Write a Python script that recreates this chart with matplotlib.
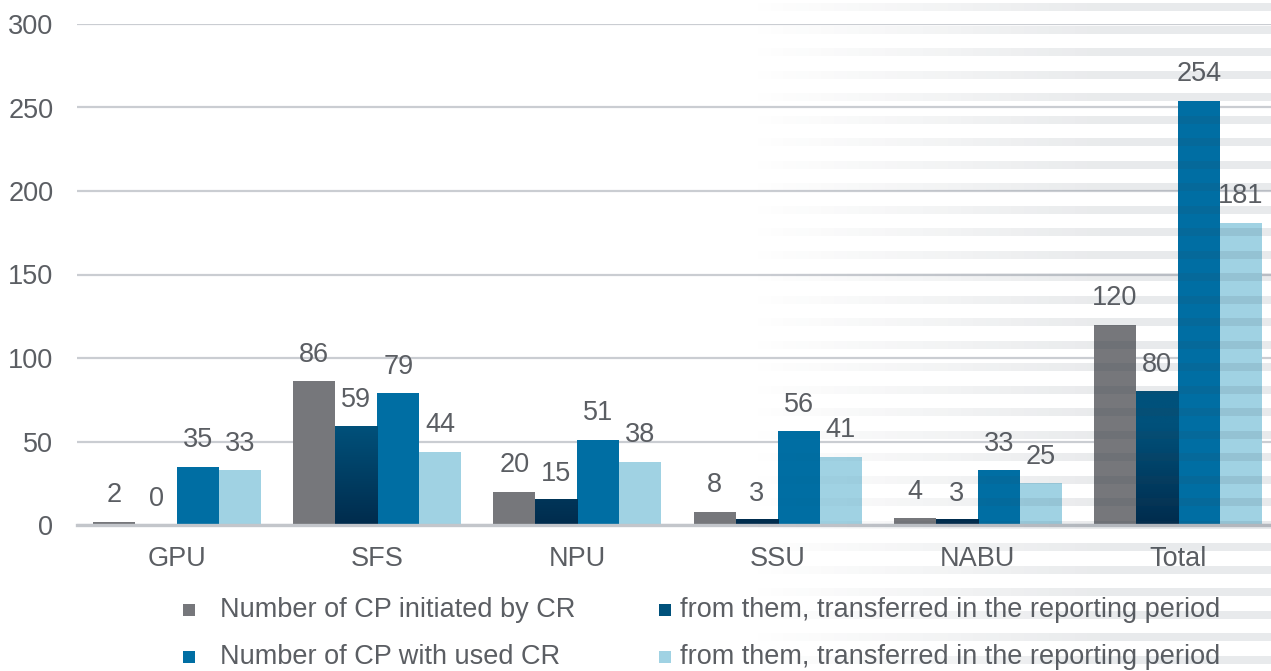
import matplotlib.pyplot as plt
import numpy as np
from matplotlib.colors import LinearSegmentedColormap
from matplotlib.patches import Rectangle

categories = ["GPU", "SFS", "NPU", "SSU", "NABU", "Total"]
initiated = [2, 86, 20, 8, 4, 120]
initiated_transferred = [0, 59, 15, 3, 3, 80]
used_cr = [35, 79, 51, 56, 33, 254]
used_transferred = [33, 44, 38, 41, 25, 181]
legend_labels = [
    "Number of CP initiated by CR",
    "from them, transferred in the reporting period",
    "Number of CP with used CR",
    "from them, transferred in the reporting period",
]

GRAY = "#76777b"
NAVY_TOP = "#00517b"
NAVY_BOT = "#002c4d"
BLUE = "#006ea3"
LIGHT = "#a0d2e3"
TEXT = "#5b5e63"
GRID = "#cacdd2"

plt.rcParams["font.family"] = ["Liberation Sans", "DejaVu Sans"]

W, H = 1271, 671
fig = plt.figure(figsize=(W / 100, H / 100), dpi=100)
ax = fig.add_axes([77 / W, 146 / H, 1 - 77 / W, 501 / H])

x = np.arange(len(categories))
width = 0.21
series = [initiated, initiated_transferred, used_cr, used_transferred]
colors = [GRAY, NAVY_BOT, BLUE, LIGHT]
offsets = [-1.5 * width, -0.5 * width, 0.5 * width, 1.5 * width]

navy_cmap = LinearSegmentedColormap.from_list("navy", [NAVY_BOT, NAVY_TOP])
for vals, col, off in zip(series, colors, offsets):
    bars = ax.bar(x + off, vals, width, color=col, zorder=3, linewidth=0)
    if vals is initiated_transferred:
        # vertical gradient on the dark bars
        for b, v in zip(bars, vals):
            if v <= 0:
                continue
            grad = np.linspace(v, 0, 64).reshape(-1, 1)
            ax.imshow(grad, cmap=navy_cmap, vmin=0, vmax=60, aspect="auto",
                      extent=(b.get_x(), b.get_x() + b.get_width(), 0, v),
                      zorder=3.5, interpolation="bilinear")
    for xi, v in zip(x + off, vals):
        ax.annotate(str(v), (xi, v), xytext=(0, 19), textcoords="offset points",
                    ha="center", va="center", fontsize=19.5, color=TEXT, zorder=5)

ax.set_xlim(-0.5, 5.465)
ax.set_ylim(0, 300)
ax.set_yticks(np.arange(0, 301, 50))
ax.set_xticks(x)
ax.set_xticklabels(categories)
ax.tick_params(axis="both", length=0, labelsize=19.5, labelcolor=TEXT)
ax.tick_params(axis="y", pad=17)
ax.tick_params(axis="x", pad=15)
ax.yaxis.grid(True, color=GRID, linewidth=1.6, zorder=0)
ax.set_axisbelow(True)
for s in ["top", "right", "left"]:
    ax.spines[s].set_visible(False)
ax.spines["bottom"].set_color("#c3c6cb")
ax.spines["bottom"].set_linewidth(2.4)
ax.spines["bottom"].set_zorder(4)

# legend, two rows by two columns
leg_colors = [GRAY, NAVY_TOP, BLUE, LIGHT]
leg_pos = [(183, 610, 220), (659, 610, 680), (183, 657, 220), (659, 657, 680)]
for (mx, my, tx), col, lab in zip(leg_pos, leg_colors, legend_labels):
    fig.add_artist(Rectangle((mx / W, 1 - (my + 6) / H), 12 / W, 12 / H,
                             transform=fig.transFigure, color=col, linewidth=0))
    fig.text(tx / W, 1 - my / H, lab, fontsize=19.5, color=TEXT, va="center", ha="left")

# faint horizontal stripes fading in on the right
rows = np.arange(H)
stripe = (((rows - 3) % 22.5) < 7.7).astype(float)
cols = np.arange(W)
ramp = np.clip((cols - 745) / (1100 - 745), 0, 1) * 0.11
overlay = np.zeros((H, W, 4))
overlay[..., 0] = 0.2
overlay[..., 1] = 0.27
overlay[..., 2] = 0.33
overlay[..., 3] = stripe[:, None] * ramp[None, :]
oax = fig.add_axes([0, 0, 1, 1], zorder=10)
oax.imshow(overlay, aspect="auto", interpolation="nearest")
oax.axis("off")

fig.savefig("out.png", dpi=100)
